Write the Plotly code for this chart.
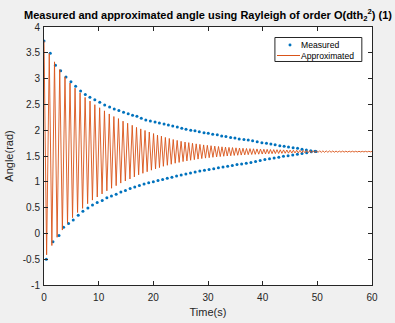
import plotly.graph_objects as go

# Measured angle: upper extremes (time s, angle rad)
meas_upper_t = [0.00, 1.15, 2.10, 3.05, 4.02, 4.93, 5.79, 6.70, 7.56, 8.40, 9.30, 10.20,
                11.10, 12.00, 12.85, 13.70, 14.55, 15.40, 16.20, 17.00, 17.80, 18.62,
                19.46, 20.32, 21.11, 21.96, 22.75, 23.55, 24.39, 25.20, 25.98, 26.84,
                27.62, 28.41, 29.27, 30.05, 30.86, 31.70, 32.50, 33.28, 34.14, 34.93,
                35.71, 36.57, 37.36, 38.16, 39.00, 39.86, 40.70, 41.50, 42.28, 43.14,
                43.93, 44.73, 45.57, 46.38, 47.20, 48.00, 48.80, 49.60]
meas_upper_v = [3.73, 3.49, 3.26, 3.15, 3.03, 2.94, 2.85, 2.76, 2.69, 2.64, 2.59, 2.54,
                2.49, 2.45, 2.41, 2.38, 2.35, 2.32, 2.29, 2.27, 2.23, 2.20,
                2.18, 2.16, 2.14, 2.12, 2.10, 2.08, 2.06, 2.04, 2.02, 2.00,
                1.99, 1.97, 1.95, 1.94, 1.92, 1.91, 1.89, 1.88, 1.86, 1.85,
                1.83, 1.82, 1.81, 1.796, 1.777, 1.758, 1.745, 1.732, 1.718, 1.700,
                1.687, 1.674, 1.660, 1.648, 1.630, 1.616, 1.600, 1.590]

# Measured angle: lower extremes
meas_lower_t = [0.42, 1.64, 2.74, 3.58, 4.49, 5.35, 6.26, 7.12, 8.03, 8.87, 9.73, 10.65,
                11.50, 12.34, 13.20, 14.06, 14.90, 15.76, 16.60, 17.45, 18.30, 19.15,
                20.00, 20.85, 21.70, 22.55, 23.40, 24.25, 25.10, 25.95, 26.80, 27.65,
                28.50, 29.35, 30.20, 31.05, 31.90, 32.75, 33.60, 34.45, 35.30, 36.15,
                37.00, 37.85, 38.70, 39.55, 40.40, 41.25, 42.10, 42.95, 43.80, 44.65,
                45.50, 46.35, 47.20, 48.05, 48.90, 49.75]
meas_lower_v = [-0.50, -0.16, -0.04, 0.12, 0.19, 0.26, 0.35, 0.43, 0.49, 0.55, 0.60, 0.64,
                0.69, 0.725, 0.76, 0.80, 0.83, 0.87, 0.90, 0.93, 0.955, 0.98,
                1.00, 1.025, 1.045, 1.068, 1.088, 1.11, 1.13, 1.15, 1.17, 1.19,
                1.208, 1.225, 1.24, 1.255, 1.27, 1.285, 1.30, 1.318, 1.333, 1.347,
                1.36, 1.374, 1.392, 1.412, 1.432, 1.447, 1.461, 1.475, 1.494, 1.507,
                1.521, 1.535, 1.548, 1.565, 1.58, 1.585]

# Approximated angle: successive extremes (time s, angle rad)
approx_t = [0.00, 0.48, 0.96, 1.44, 1.92, 2.40, 2.88, 3.36, 3.84, 4.30, 4.76, 5.22, 5.68,
            6.14, 6.60, 7.06, 7.52, 7.98, 8.42, 8.86, 9.30, 9.74, 10.18, 10.62, 11.06,
            11.50, 11.94, 12.36, 12.78, 13.20, 13.62, 14.04, 14.46, 14.88, 15.30, 15.72,
            16.14, 16.53, 16.92, 17.31, 17.70, 18.09, 18.48, 18.87, 19.26, 19.65, 20.04,
            20.40, 20.76, 21.12, 21.48, 21.84, 22.20, 22.56, 22.92, 23.28, 23.64, 24.00,
            24.36, 24.72, 25.08, 25.44, 25.80, 26.14, 26.48, 26.82, 27.16, 27.50, 27.84,
            28.18, 28.52, 28.86, 29.20, 29.54, 29.88, 30.22, 30.56, 30.90, 31.24, 31.58,
            31.92, 32.24, 32.56, 32.88, 33.20, 33.52, 33.84, 34.16, 34.48, 34.80, 35.12,
            35.44, 35.76, 36.08, 36.40, 36.72, 37.04, 37.36, 37.68, 38.00, 38.32, 38.64,
            38.96, 39.28, 39.60, 39.92, 40.22, 40.52, 40.82, 41.12, 41.42, 41.72, 42.02,
            42.32, 42.62, 42.92, 43.22, 43.52, 43.82, 44.12, 44.42, 44.72, 45.02, 45.32,
            45.62, 45.92, 46.22, 46.52, 46.82, 47.12, 47.42, 47.72, 48.02, 48.32, 48.62,
            48.92, 49.22, 49.52, 49.82, 50.12, 50.42, 50.72, 51.02, 51.32, 51.62, 51.92,
            52.22, 52.52, 52.82, 53.12, 53.42, 53.72, 54.02, 54.32, 54.62, 54.92, 55.22,
            55.52, 55.82, 56.12, 56.42, 56.72, 57.02, 57.32, 57.62, 57.92, 58.22, 58.52,
            58.82, 59.12, 59.42, 59.72, 60.00]
approx_v = [3.73, -0.415, 3.485, -0.235, 3.325, -0.075, 3.175, 0.065, 3.035, 0.195, 2.915,
            0.305, 2.815, 0.405, 2.725, 0.485, 2.635, 0.575, 2.565, 0.645, 2.495, 0.705,
            2.435, 0.765, 2.375, 0.825, 2.315, 0.875, 2.265, 0.925, 2.225, 0.975, 2.175,
            1.015, 2.135, 1.055, 2.095, 1.095, 2.055, 1.135, 2.025, 1.165, 1.995, 1.195,
            1.965, 1.225, 1.935, 1.25, 1.905, 1.275, 1.885, 1.30, 1.86, 1.32, 1.84, 1.34,
            1.82, 1.36, 1.803, 1.375, 1.785, 1.392, 1.771, 1.405, 1.759, 1.417, 1.747,
            1.429, 1.735, 1.44, 1.725, 1.45, 1.715, 1.459, 1.707, 1.467, 1.699, 1.475,
            1.691, 1.483, 1.684, 1.489, 1.678, 1.495, 1.672, 1.50, 1.667, 1.505, 1.663,
            1.51, 1.658, 1.514, 1.654, 1.518, 1.65, 1.522, 1.646, 1.525, 1.643, 1.529,
            1.64, 1.532, 1.637, 1.535, 1.634, 1.538, 1.631, 1.54, 1.629, 1.543, 1.626,
            1.545, 1.624, 1.547, 1.622, 1.549, 1.62, 1.551, 1.618, 1.553, 1.616, 1.555,
            1.614, 1.557, 1.612, 1.559, 1.611, 1.56, 1.609, 1.562, 1.607, 1.563, 1.606,
            1.565, 1.605, 1.566, 1.603, 1.567, 1.602, 1.569, 1.601, 1.57, 1.60, 1.571,
            1.599, 1.572, 1.598, 1.573, 1.597, 1.573, 1.596, 1.574, 1.595, 1.575, 1.595,
            1.576, 1.594, 1.576, 1.593, 1.577, 1.593, 1.577, 1.592, 1.578, 1.592, 1.578,
            1.591, 1.579, 1.591, 1.579, 1.591, 1.58, 1.59]

x_ticks = [0, 10, 20, 30, 40, 50, 60]
y_ticks = [-1, -0.5, 0, 0.5, 1, 1.5, 2, 2.5, 3, 3.5, 4]
y_tick_text = ["-1", "-0.5", "0", "0.5", "1", "1.5", "2", "2.5", "3", "3.5", "4"]
legend_labels = ["Measured", "Approximated"]

BLUE = "#0072BD"
ORANGE = "#D95319"
AX = "#262626"
FONT = "Liberation Sans, Arial, sans-serif"

fig = go.Figure()
fig.add_trace(go.Scatter(
    x=meas_upper_t + meas_lower_t, y=meas_upper_v + meas_lower_v,
    mode="markers", name=legend_labels[0], showlegend=False,
    marker=dict(color=BLUE, size=3, line=dict(width=0)),
))
fig.add_trace(go.Scatter(
    x=approx_t, y=approx_v, mode="lines", name=legend_labels[1], showlegend=False,
    line=dict(color=ORANGE, width=0.9),
))

axis_common = dict(
    showline=True, linecolor=AX, linewidth=1, mirror="ticks",
    ticks="inside", ticklen=4, tickcolor=AX, tickwidth=1,
    showgrid=False, zeroline=False, automargin=False,
    tickfont=dict(family=FONT, size=10, color=AX),
)

# Legend box (MATLAB-style, compact) drawn in the plot's paper coordinates
lg_x0, lg_x1, lg_y0, lg_y1 = 0.704, 0.969, 0.8663, 0.9593
row_y = [0.9302, 0.8895]
shapes = [
    dict(type="rect", xref="paper", yref="paper", x0=lg_x0, x1=lg_x1, y0=lg_y0, y1=lg_y1,
         line=dict(color=AX, width=1), fillcolor="#FFFFFF", layer="above"),
    dict(type="circle", xref="paper", yref="paper", x0=0.7455, x1=0.7545,
         y0=row_y[0] - 0.0058, y1=row_y[0] + 0.0058,
         line=dict(width=0), fillcolor=BLUE, layer="above"),
    dict(type="line", xref="paper", yref="paper", x0=0.7104, x1=0.7805,
         y0=row_y[1], y1=row_y[1], line=dict(color=ORANGE, width=1), layer="above"),
]
annotations = [
    dict(text=legend_labels[i], xref="paper", yref="paper", x=0.782, y=row_y[i],
         xanchor="left", yanchor="middle", showarrow=False, borderpad=0,
         font=dict(family=FONT, size=8.6, color="#000000"))
    for i in range(2)
]

fig.update_layout(
    width=395, height=323,
    margin=dict(l=44, r=23, t=27, b=38),
    paper_bgcolor="#F0F0F0", plot_bgcolor="#FFFFFF",
    font=dict(family=FONT, color=AX),
    title=dict(
        text="<b>Measured and approximated angle using Rayleigh of order O(dth<sub>2</sub><sup>2</sup>) (1)</b>",
        font=dict(family=FONT, size=11, color="#000000"),
        x=0.5, xref="paper", xanchor="center",
        y=1 - 15 / 323, yref="container", yanchor="middle",
    ),
    xaxis=dict(range=[0, 60], tickvals=x_ticks, ticklabelstandoff=3, **axis_common,
               title=dict(text="Time(s)", font=dict(family=FONT, size=11, color=AX), standoff=6)),
    yaxis=dict(range=[-1, 4], tickvals=y_ticks, ticktext=y_tick_text, ticklabelstandoff=1,
               **axis_common,
               title=dict(text="Angle(rad)", font=dict(family=FONT, size=11, color=AX), standoff=6)),
    shapes=shapes,
    annotations=annotations,
    showlegend=False,
)

fig.write_html("out.html")
